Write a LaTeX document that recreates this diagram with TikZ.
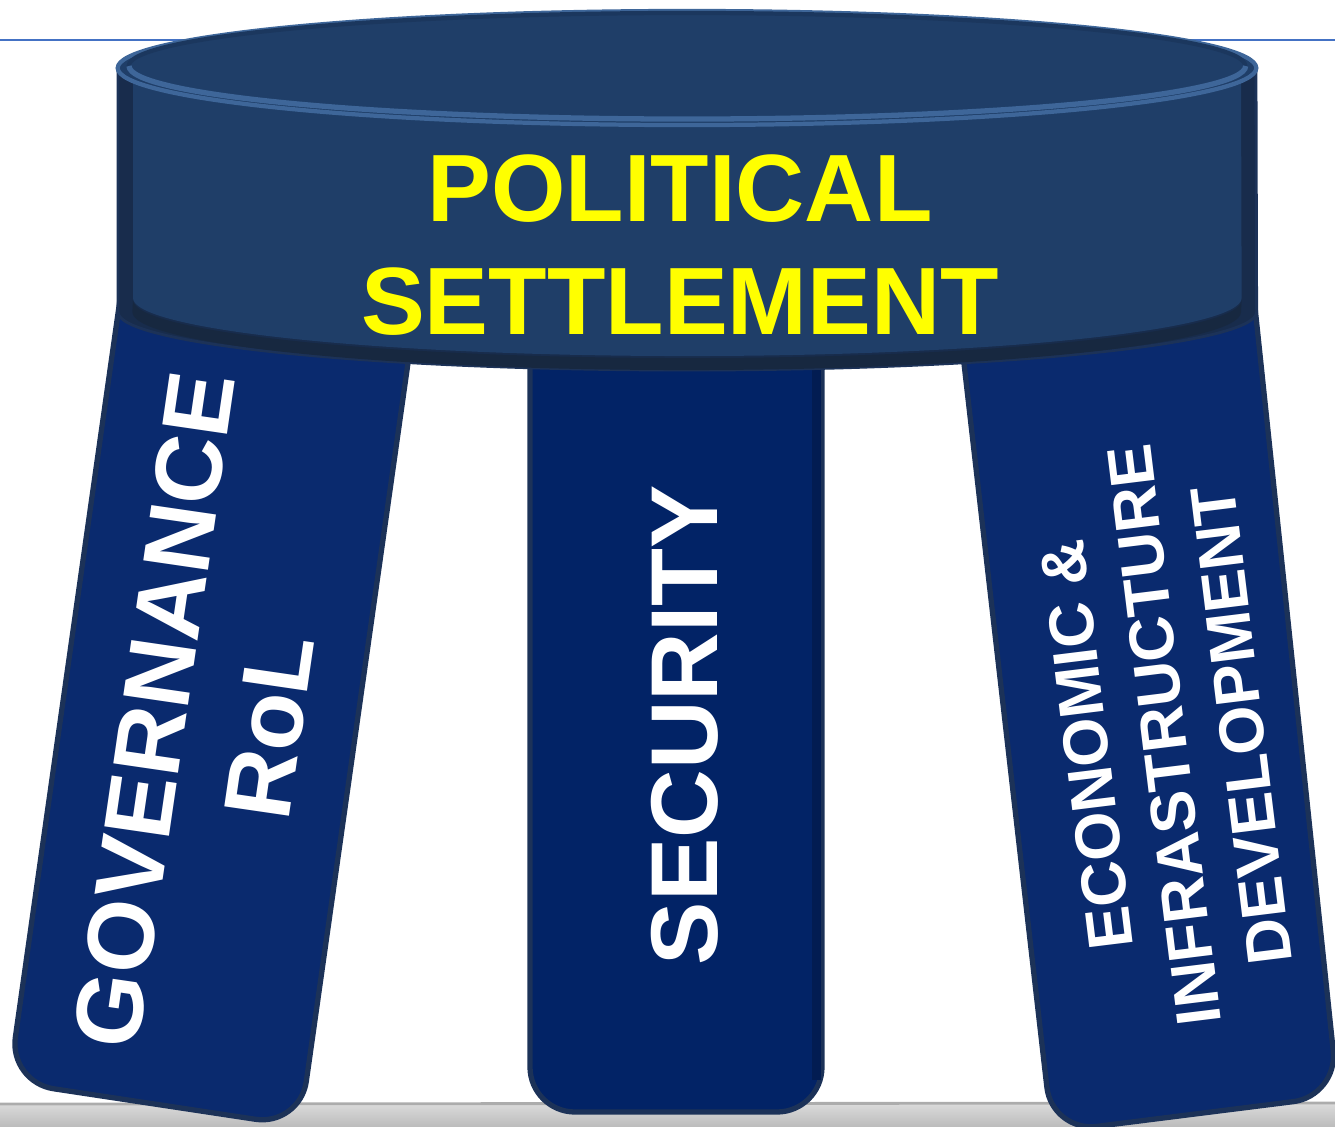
\documentclass[tikz,border=0pt]{standalone}
\usepackage{fontspec}
\setmainfont{Liberation Sans}
\definecolor{seatblue}{RGB}{31,62,104}
\definecolor{sidedark}{RGB}{24,44,76}
\definecolor{banddark}{RGB}{23,40,64}
\definecolor{rimblue}{RGB}{62,102,153}
\definecolor{liprim}{RGB}{27,55,94}
\definecolor{legblue}{RGB}{10,42,110}
\definecolor{midleg}{RGB}{2,35,102}
\definecolor{legedge}{RGB}{28,50,88}
\definecolor{lineblue}{RGB}{68,114,196}
\definecolor{titleyellow}{RGB}{255,255,0}
\begin{document}
\begin{tikzpicture}[x=0.01cm, y=-0.01cm,
    legshape/.style={fill=legblue, draw=legedge, line width=1.5pt, rounded corners=0.45cm},
    legtext/.style={text=white, inner sep=0pt, align=center, font=\bfseries\fontsize{27}{33}\selectfont},
    titletext/.style={text=titleyellow, inner sep=0pt, align=center, font=\bfseries\fontsize{27.2}{32}\selectfont}]
\useasboundingbox (0,0) rectangle (1335,1126);

% horizon and floor
\draw[lineblue, line width=0.6pt] (0,40) -- (1335,40);
\shade[top color=gray!28, bottom color=gray!52] (0,1103) rectangle (1335,1126);
\draw[gray!65, line width=0.8pt] (0,1104) -- (1335,1103);

% the three legs
\draw[legshape] (127,250) -- (424,250) -- (300,1126) -- (9,1082) -- cycle;
\draw[legshape, fill=midleg] (530,250) -- (822,250) -- (822,1112) -- (530,1112) -- cycle;
\fill[midleg!80!black] (812,300) rectangle (821,1080);
\draw[legshape] (951,250) -- (1249,250) -- (1338,1096) -- (1052,1132) -- cycle;

% seat
\fill[sidedark, draw=legedge, line width=0.8pt] (118,68) -- (118,312)
    arc[start angle=180, end angle=360, x radius=5.69cm, y radius=0.58cm] -- (1256,68) -- cycle;
\fill[banddark] (133,300) arc[start angle=180, end angle=360, x radius=5.54cm, y radius=0.58cm]
    -- (1241,312) arc[start angle=360, end angle=180, x radius=5.54cm, y radius=0.58cm] -- cycle;
\fill[seatblue] (133,68) -- (133,298)
    arc[start angle=180, end angle=360, x radius=5.54cm, y radius=0.58cm] -- (1241,68) -- cycle;
\draw[rimblue, line width=1.2pt, fill=seatblue] (687,68) ellipse [x radius=5.69cm, y radius=0.57cm];
\draw[liprim, line width=1.2pt] (687,66) ellipse [x radius=5.58cm, y radius=0.53cm];
\draw[rimblue, line width=1.5pt] (129,66) arc[start angle=180, end angle=360, x radius=5.58cm, y radius=0.53cm];

% labels
\node[titletext] (political) at (680,245) {POLITICAL\\SETTLEMENT};
\node[legtext, rotate=81.7] (governance) at (212,718) {GOVERNANCE\\RoL};
\node[legtext, rotate=90] (security) at (685,725) {SECURITY};
\node[legtext, rotate=97, font=\bfseries\fontsize{18}{22.2}\selectfont] (economic) at (1164,735)
    {ECONOMIC \&\\INFRASTRUCTURE\\DEVELOPMENT};
\end{tikzpicture}
\end{document}
